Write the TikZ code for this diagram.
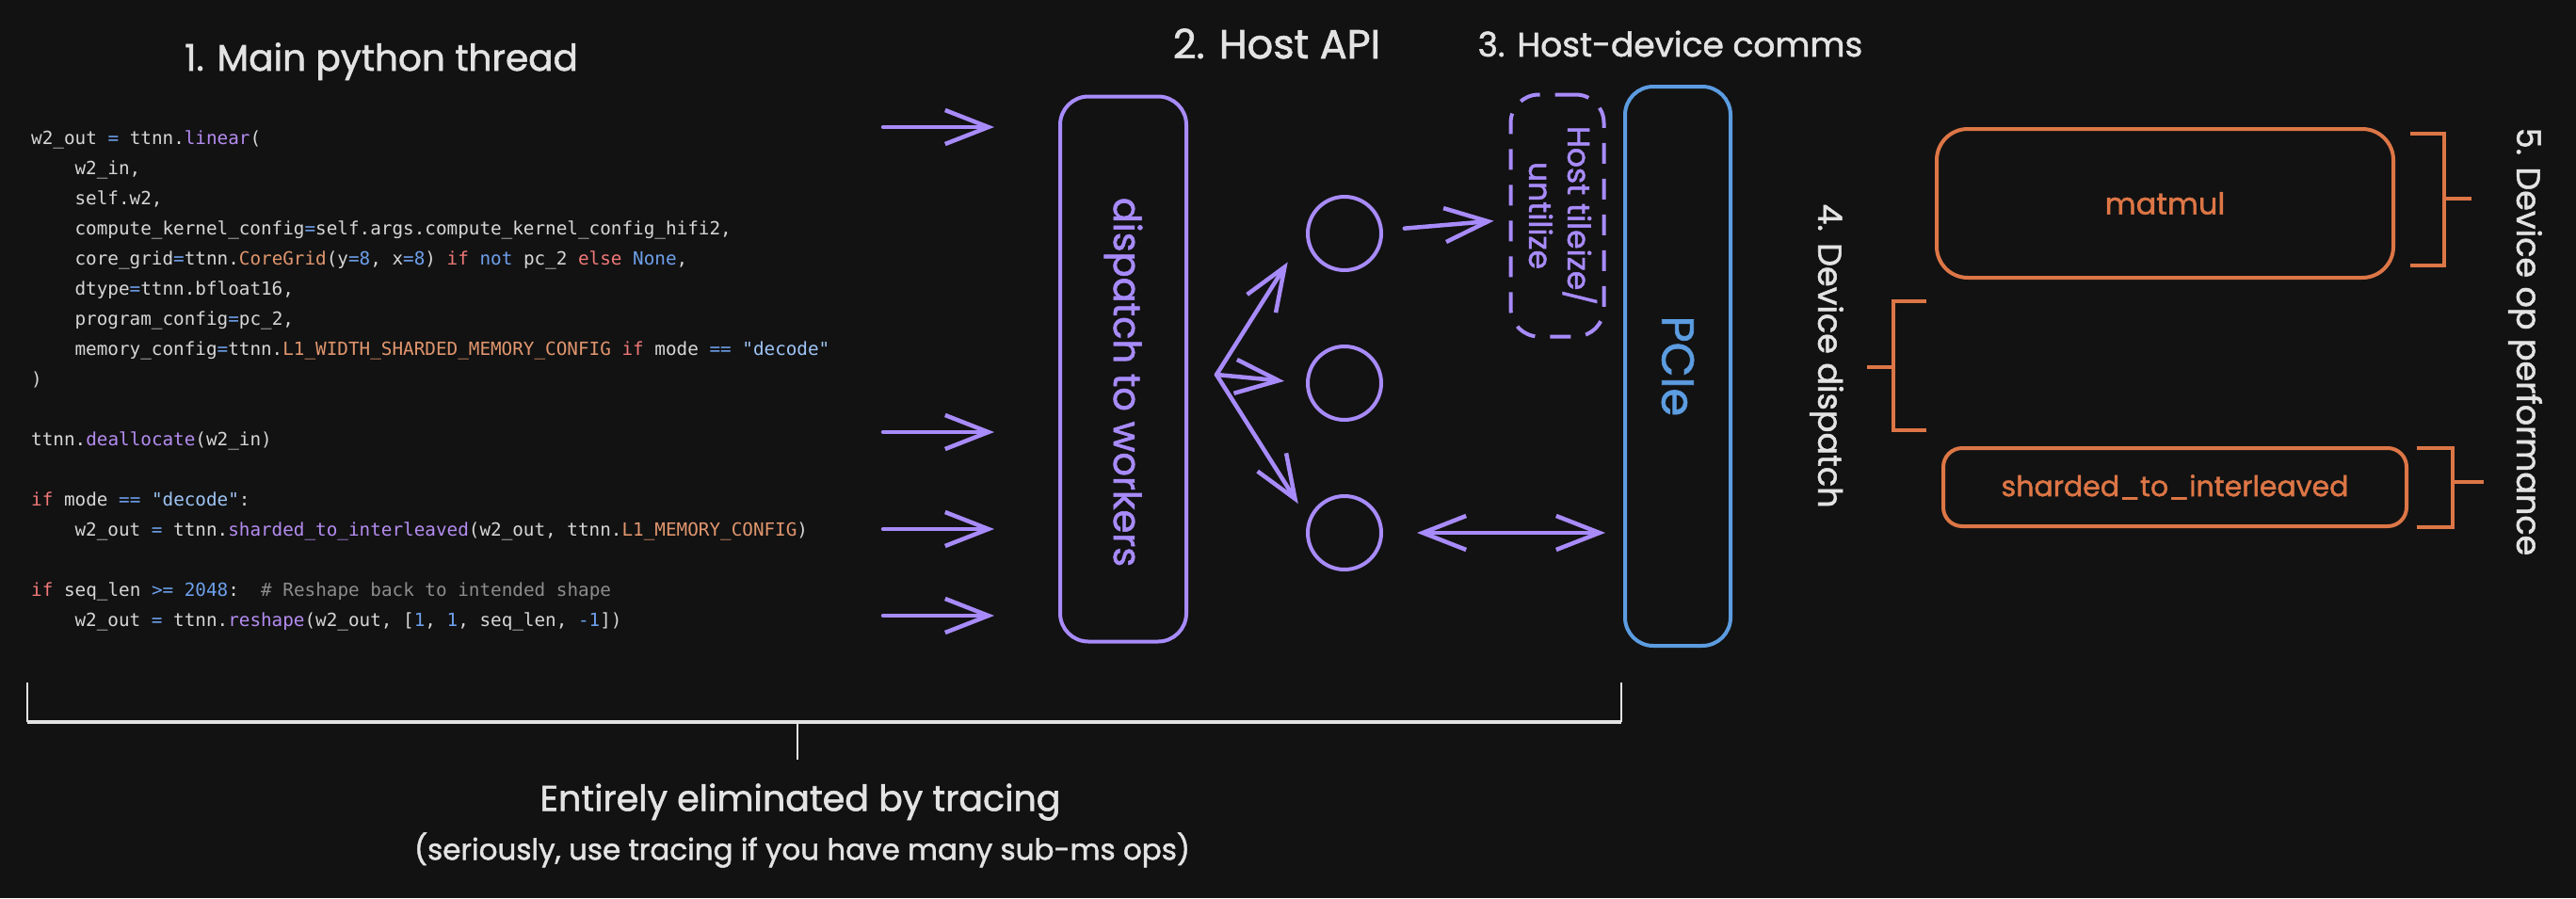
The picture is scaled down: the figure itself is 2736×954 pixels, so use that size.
\documentclass[tikz,border=0pt]{standalone}
\usepackage{fontspec}
\newfontfamily\labelfont{Poppins}[FakeBold=1.5]
\newfontfamily\codefont{DejaVu Sans Mono}[WordSpace={1,0,0}]
\usetikzlibrary{arrows.meta, positioning, calc}

\definecolor{bgdark}{HTML}{121212}
\definecolor{violetline}{HTML}{A88BFA}
\definecolor{pcieblue}{HTML}{5C9CE0}
\definecolor{opsorange}{HTML}{DD7646}
\definecolor{labelgray}{HTML}{E3E3E3}
\definecolor{codetext}{HTML}{D6D6D6}
\definecolor{codered}{HTML}{F07878}
\definecolor{codeblue}{HTML}{6EA0EB}
\definecolor{codepurple}{HTML}{B48CF0}
\definecolor{codeorange}{HTML}{E1966E}
\definecolor{codestring}{HTML}{9EC4F5}
\definecolor{codegray}{HTML}{8C8C8C}

% syntax colours for the python listing
\newcommand{\ckw}[1]{\textcolor{codered}{#1}}
\newcommand{\cop}[1]{\textcolor{codeblue}{#1}}
\newcommand{\cfn}[1]{\textcolor{codepurple}{#1}}
\newcommand{\ccls}[1]{\textcolor{codeorange}{#1}}
\newcommand{\cstr}[1]{\textcolor{codestring}{#1}}
\newcommand{\ccom}[1]{\textcolor{codegray}{#1}}
\newcommand{\labelsize}[1]{\labelfont\fontsize{#1}{#1}\selectfont}

\tikzset{sketchtip/.tip={Straight Barb[length=46pt, width=36pt]}}

\begin{document}
\begin{tikzpicture}[
    x=1pt, y=-1pt,
    arrowstyle/.style={draw=violetline, line width=4.5pt, line cap=round, line join=round, -sketchtip},
    heading/.style={text=labelgray, anchor=base, font=\labelsize{36}},
    sideheading/.style={text=labelgray, rotate=-90, font=\labelsize{35}},
    codeline/.style={anchor=base west, inner sep=0pt, text=codetext,
        font=\codefont\fontsize{19.3}{32}\selectfont},
    hostbox/.style={rectangle, draw=violetline, line width=4pt, rounded corners=30pt,
        inner sep=2pt, text=violetline, font=\labelsize{40}},
    pciebox/.style={rectangle, draw=pcieblue, line width=4pt, rounded corners=30pt,
        inner sep=2pt, text=pcieblue, font=\labelsize{48}},
    worker/.style={circle, draw=violetline, line width=4pt, minimum size=78pt, inner sep=0pt},
    opbox/.style={rectangle, draw=opsorange, line width=4pt, text=opsorange},
    opline/.style={draw=opsorange, line width=4pt},
    traceline/.style={draw=labelgray, line width=2.5pt},
    tracetext/.style={text=labelgray, font=\labelsize{38}},
    tracenote/.style={text=labelgray, font=\labelsize{31}}
]
\useasboundingbox (0,0) rectangle (2736,954);
\fill[bgdark] (0,0) rectangle (2736,954);

% headings
\node (mainhead) [heading, font=\labelsize{39}] at (405,75) {1. Main python thread};
\node (apihead) [heading, font=\labelsize{43}] at (1356,62) {2. Host API};
\node (commshead) [heading] at (1774,60) {3. Host-device comms};

% python listing
\node (code0) [codeline] at (33,153) {w2\_out \cop{=} ttnn.\cfn{linear}(};
\node (code1) [codeline] at (79.4,185) {w2\_in,};
\node (code2) [codeline] at (79.4,217) {self.w2,};
\node (code3) [codeline] at (79.4,249) {compute\_kernel\_config\cop{=}self.args.compute\_kernel\_config\_hifi2,};
\node (code4) [codeline] at (79.4,281) {core\_grid\cop{=}ttnn.\ccls{CoreGrid}(y\cop{=}\cop{8}, x\cop{=}\cop{8}) \ckw{if} \cop{not} pc\_2 \ckw{else} \cop{None},};
\node (code5) [codeline] at (79.4,313) {dtype\cop{=}ttnn.bfloat16,};
\node (code6) [codeline] at (79.4,345) {program\_config\cop{=}pc\_2,};
\node (code7) [codeline] at (79.4,377) {memory\_config\cop{=}ttnn.\ccls{L1\_WIDTH\_SHARDED\_MEMORY\_CONFIG} \ckw{if} mode \cop{==} \cstr{"decode"}};
\node (code8) [codeline] at (33,409) {)};
\node (code10) [codeline] at (33,473) {ttnn.\cfn{deallocate}(w2\_in)};
\node (code12) [codeline] at (33,537) {\ckw{if} mode \cop{==} \cstr{"decode"}:};
\node (code13) [codeline] at (79.4,569) {w2\_out \cop{=} ttnn.\cfn{sharded\_to\_interleaved}(w2\_out, ttnn.\ccls{L1\_MEMORY\_CONFIG})};
\node (code15) [codeline] at (33,633) {\ckw{if} seq\_len \cop{>=} \cop{2048}:\ \ \ccom{\# Reshape back to intended shape}};
\node (code16) [codeline] at (79.4,665) {w2\_out \cop{=} ttnn.\cfn{reshape}(w2\_out, [\cop{1}, \cop{1}, seq\_len, \cop{-1}])};

% host api
\node (dispatch) [hostbox, minimum width=134, minimum height=579] at (1193,392) {\rotatebox{-90}{\hspace{28pt}dispatch to workers}};
\node (w1) [worker] at (1428,248) {};
\node (w2) [worker] at (1428,407) {};
\node (w3) [worker] at (1428,566) {};

% host-device comms
\node (tile) [hostbox, dash pattern=on 22pt off 16pt, minimum width=99, minimum height=257,
    inner sep=0pt, font=\labelfont\fontsize{33}{41}\selectfont] at (1654,229)
    {\rotatebox{-90}{\begin{tabular}{@{}c@{}}Host tileize/\\untilize\end{tabular}}};
\node (pcie) [pciebox, minimum width=112, minimum height=594] at (1782,389) {\rotatebox{-90}{PCIe}};

\foreach \y [count=\i] in {135,459,562,654} {
  \coordinate (src\i) at (938,\y);
  \coordinate (dst\i) at (1056,\y);
  \draw[arrowstyle] (src\i) -- (dst\i);
}
\coordinate (fan) at (1292,398);
\draw[arrowstyle, shorten >=36pt] (fan) -- (w1.west);
\draw[arrowstyle, shorten >=23pt] (fan) -- (w2.west);
\draw[arrowstyle, shorten >=20pt] (fan) -- (w3.160);
\draw[arrowstyle, shorten <=23pt, shorten >=16pt] (w1) -- (tile);
\draw[arrowstyle, sketchtip-sketchtip, shorten <=36pt, shorten >=19pt] (w3.east) -- (w3.east -| pcie.west);

% device side
\node (matmul) [opbox, minimum width=485, minimum height=158, rounded corners=33pt,
    font=\labelsize{32}] at (2299.5,216) {matmul};
\node (s2i) [opbox, minimum width=492, minimum height=83, rounded corners=20pt,
    font=\labelsize{30}] at (2310,517.5) {sharded\_to\_interleaved};

\draw[opline] (2560,142) -- (2596,142) -- (2596,282) -- (2560,282);
\draw[opline] (2596,211) -- (2625,211);
\draw[opline] (2046,320) -- (2011,320) -- (2011,457) -- (2046,457);
\draw[opline] (2011,390) -- (1983,390);
\draw[opline] (2567,476) -- (2605,476) -- (2605,560) -- (2567,560);
\draw[opline] (2605,512) -- (2638,512);

\node (devdispatch) [sideheading] at (1940,378) {4. Device dispatch};
\node (devperf) [sideheading] at (2682,363) {5. Device op performance};

% tracing note
\draw[traceline] (29,725) -- (29,767);
\draw[traceline] (1722,725) -- (1722,767);
\draw[traceline, line width=4.5pt] (29,767) -- (1722,767);
\draw[traceline] (847,767) -- (847,807);
\node (traced) [tracetext] at (850,852) {Entirely eliminated by tracing};
\node (tracednote) [tracenote] at (852,903) {(seriously, use tracing if you have many sub-ms ops)};

\end{tikzpicture}
\end{document}
